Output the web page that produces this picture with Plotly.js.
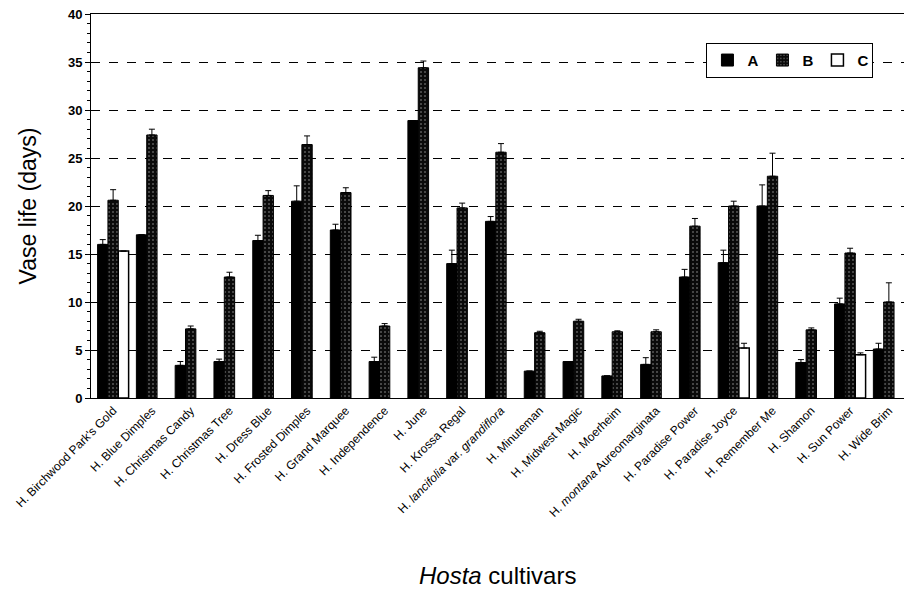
<!DOCTYPE html>
<html>
<head>
<meta charset="utf-8">
<script src="https://cdn.plot.ly/plotly-3.0.1.min.js"></script>
<style>html,body{margin:0;padding:0;background:#fff;}#chart{width:904px;height:602px;}</style>
</head>
<body>
<div id="chart"></div>
<script>
const cultivars = [
  "H. Birchwood Park's Gold", "H. Blue Dimples", "H. Christmas Candy", "H. Christmas Tree",
  "H. Dress Blue", "H. Frosted Dimples", "H. Grand Marquee", "H. Independence", "H. June",
  "H. Krossa Regal", "H. <i>lancifolia</i> var. <i>grandiflora</i>", "H. Minuteman",
  "H. Midwest Magic", "H. Moerheim", "H. <i>montana</i> Aureomarginata", "H. Paradise Power",
  "H. Paradise Joyce", "H. Remember Me", "H. Shamon", "H. Sun Power", "H. Wide Brim"
];
const seriesNames = ["A", "B", "C"];
const valuesA = [16.0, 17.0, 3.4, 3.8, 16.4, 20.5, 17.5, 3.8, 28.9, 14.0, 18.4, 2.8, 3.8, 2.3, 3.5, 12.6, 14.1, 20.0, 3.7, 9.8, 5.1];
const errorsA = [0.5, 0, 0.4, 0.25, 0.55, 1.6, 0.6, 0.45, 0, 1.4, 0.5, 0, 0, 0, 0.7, 0.8, 1.3, 2.2, 0.3, 0.6, 0.6];
const valuesB = [20.6, 27.4, 7.2, 12.6, 21.1, 26.4, 21.4, 7.5, 34.4, 19.8, 25.6, 6.8, 8.0, 6.9, 6.9, 17.9, 20.0, 23.1, 7.1, 15.1, 10.0];
const errorsB = [1.1, 0.6, 0.3, 0.5, 0.5, 0.9, 0.5, 0.25, 0.7, 0.5, 0.9, 0.15, 0.2, 0.1, 0.2, 0.8, 0.5, 2.4, 0.2, 0.5, 2.0];
const valuesC = [15.3, null, null, null, null, null, null, null, null, null, null, null, null, null, null, null, 5.2, null, null, 4.5, null];
const errorsC = [0, 0, 0, 0, 0, 0, 0, 0, 0, 0, 0, 0, 0, 0, 0, 0, 0.5, 0, 0, 0.2, 0];
const yTickVals = [0, 5, 10, 15, 20, 25, 30, 35, 40];

const zeros = cultivars.map(() => 0);
function errBar(arr) {
  return {type: 'data', symmetric: false, array: arr, arrayminus: zeros,
          color: '#000', thickness: 1, width: 3};
}

const traces = [
  {type: 'bar', name: seriesNames[0], x: cultivars, y: valuesA, error_y: errBar(errorsA),
   marker: {color: '#000', line: {color: '#000', width: 1}}},
  {type: 'bar', name: seriesNames[1], x: cultivars, y: valuesB, error_y: errBar(errorsB),
   marker: {color: '#111', line: {color: '#000', width: 1},
            pattern: {shape: '.', fgcolor: '#5a5a5a', bgcolor: '#0a0a0a', size: 4, solidity: 0.2}}},
  {type: 'bar', name: seriesNames[2], x: cultivars, y: valuesC, error_y: errBar(errorsC),
   marker: {color: '#fff', line: {color: '#000', width: 1.5}}}
];

const layout = {
  width: 904, height: 602,
  margin: {l: 91, r: 0, t: 14, b: 204},
  paper_bgcolor: '#fff', plot_bgcolor: '#fff',
  barmode: 'group', bargap: 0.2, bargroupgap: 0,
  font: {family: 'Liberation Sans, Arial, sans-serif', color: '#000'},
  showlegend: true,
  legend: {orientation: 'h', x: 0.757, y: 0.925, xanchor: 'left', yanchor: 'top',
           bgcolor: '#fff', bordercolor: '#000', borderwidth: 1,
           font: {size: 15, weight: 'bold', family: 'Liberation Sans, Arial, sans-serif'},
           itemwidth: 30, entrywidth: 10, entrywidthmode: 'pixels', tracegroupgap: 0},
  xaxis: {
    type: 'category', range: [-0.57, 20.39],
    tickangle: -45, tickfont: {size: 12, family: 'Liberation Sans, Arial, sans-serif'},
    showline: true, linecolor: '#000', linewidth: 1, mirror: true,
    ticks: '', showgrid: false, zeroline: false, automargin: false
  },
  yaxis: {
    range: [0, 40], tickvals: yTickVals,
    tickfont: {size: 13, weight: 'bold', family: 'Liberation Sans, Arial, sans-serif'},
    showline: true, linecolor: '#000', linewidth: 1,
    ticks: 'outside', ticklen: 5, tickcolor: '#000',
    minor: {dtick: 1, ticks: 'outside', ticklen: 3, tickcolor: '#000', showgrid: false},
    showgrid: true, gridcolor: '#000', gridwidth: 1, griddash: 'dash',
    zeroline: false, automargin: false
  },
  annotations: [
    {text: 'Vase life (days)', xref: 'paper', yref: 'paper', x: -0.077, y: 0.5,
     textangle: -90, showarrow: false, xanchor: 'center', yanchor: 'middle',
     font: {size: 23, family: 'Liberation Sans, Arial, sans-serif'}},
    {text: '<i>Hosta</i> cultivars', xref: 'paper', yref: 'paper', x: 0.5, y: -0.461,
     showarrow: false, xanchor: 'center', yanchor: 'middle',
     font: {size: 24, family: 'Liberation Sans, Arial, sans-serif'}}
  ]
};

Plotly.newPlot('chart', traces, layout, {displayModeBar: false, staticPlot: true});
</script>
</body>
</html>
